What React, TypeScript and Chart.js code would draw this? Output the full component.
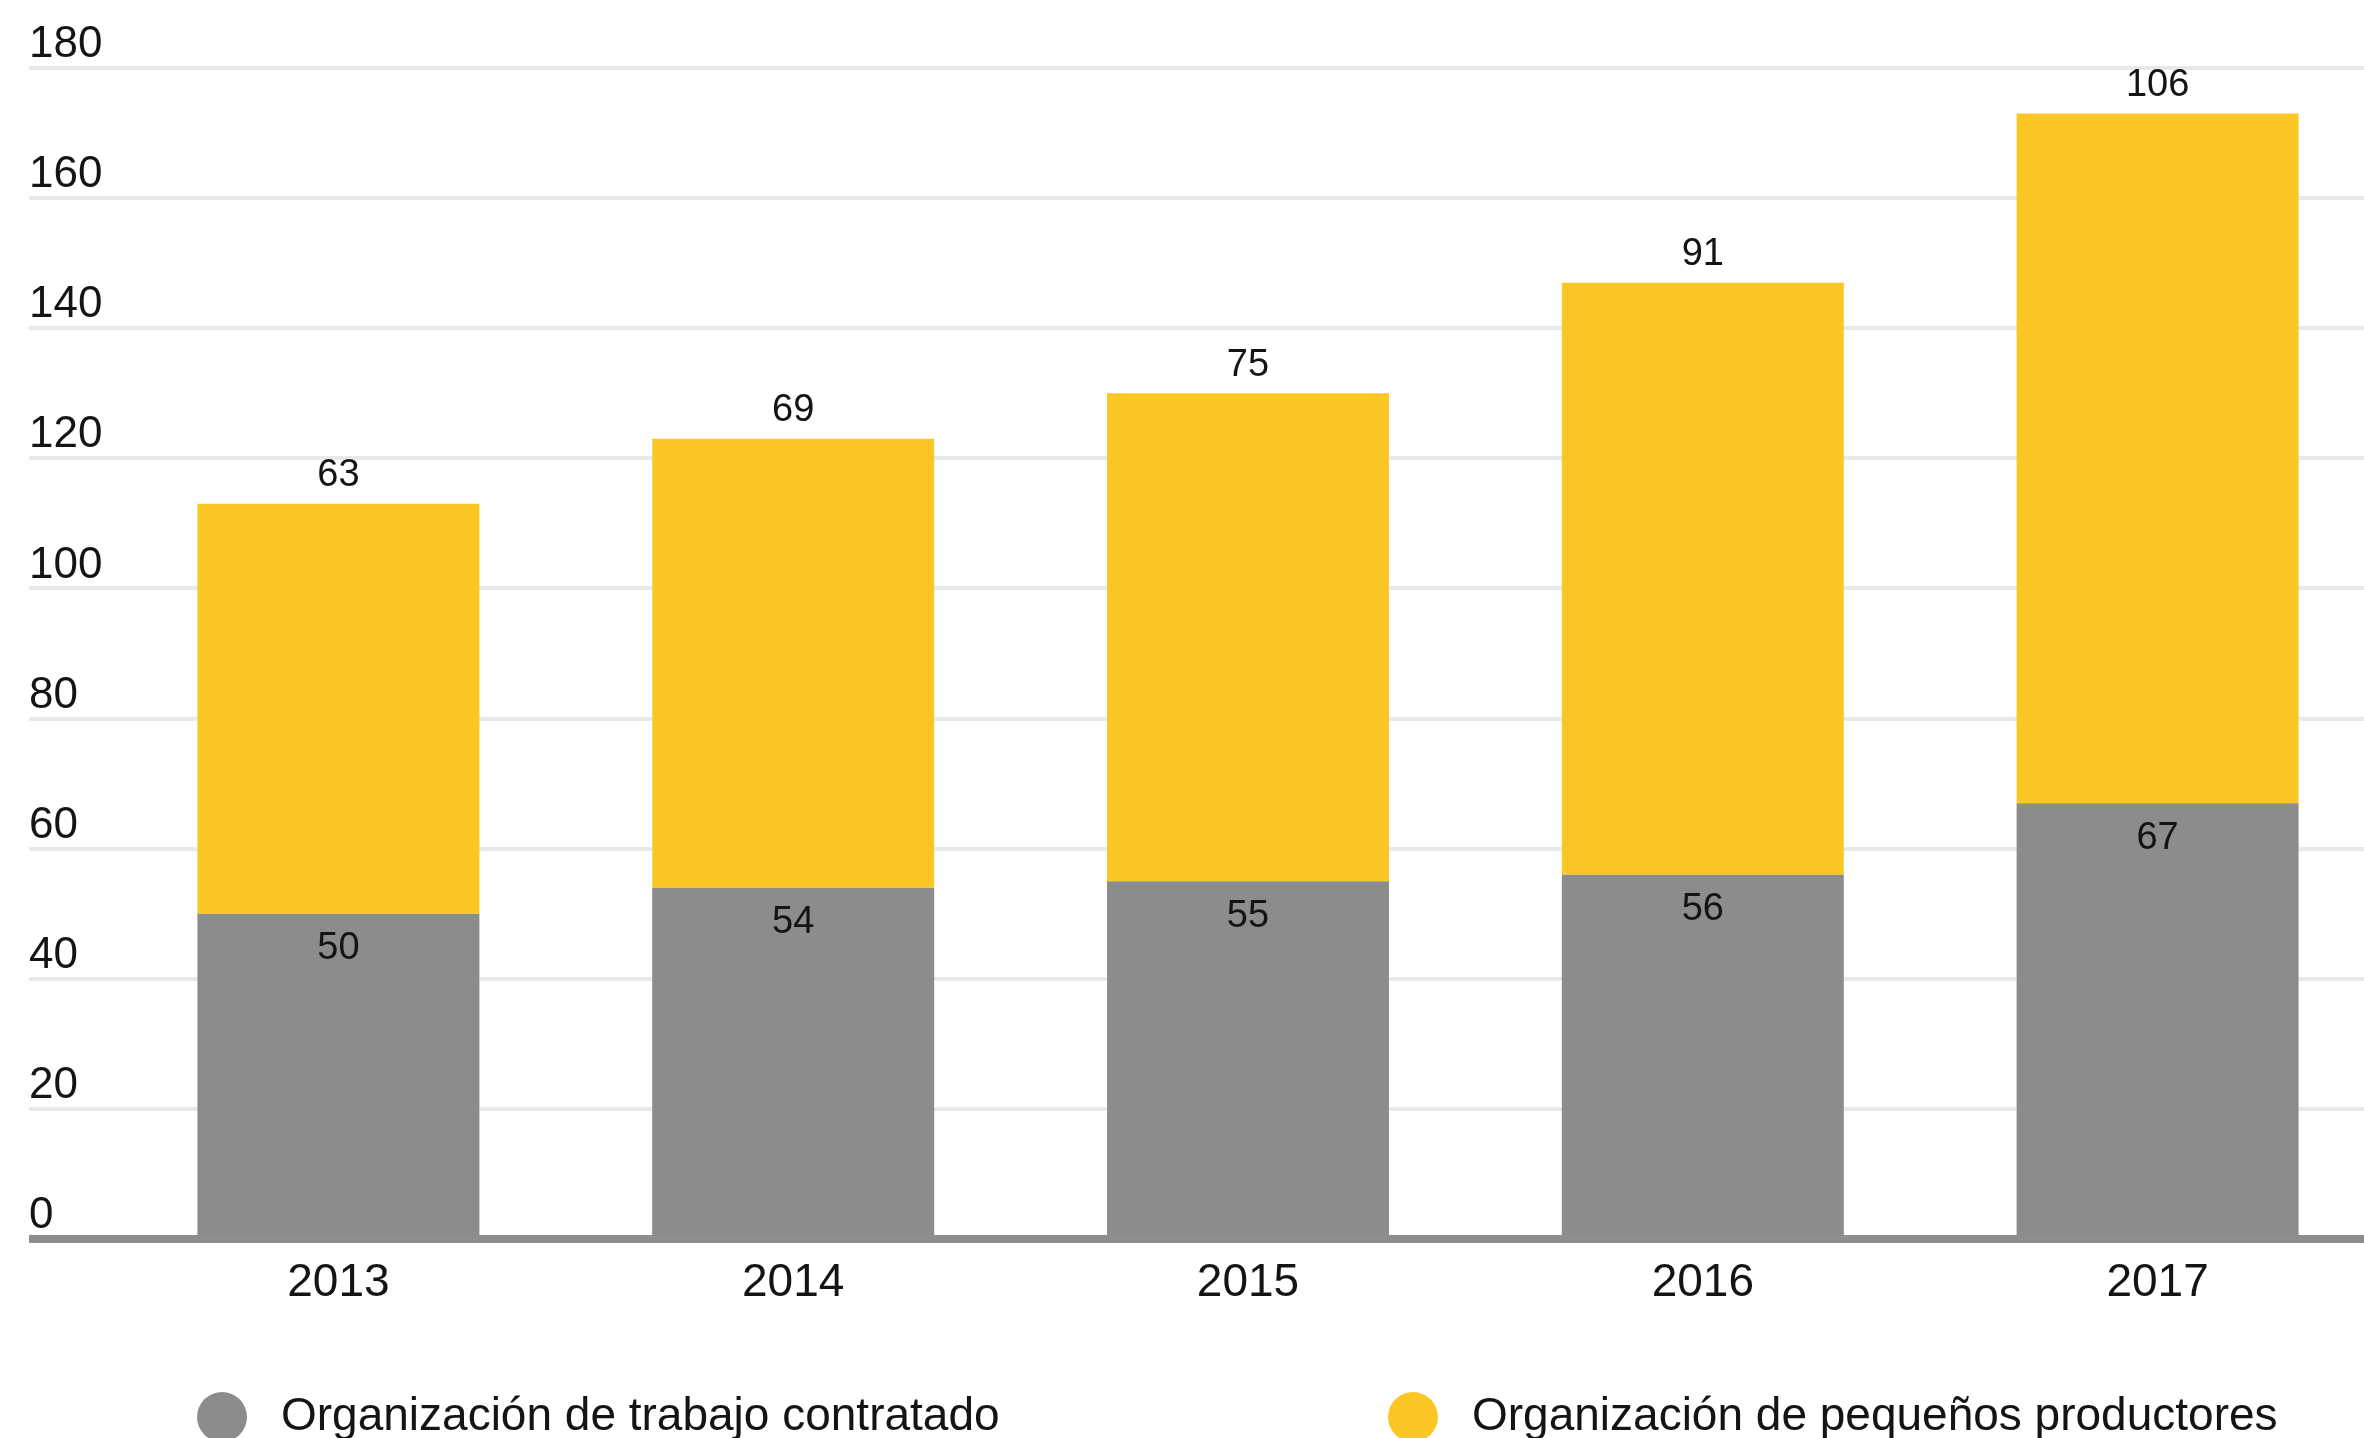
import React, { useEffect, useRef } from "react";
import { Chart, registerables } from "chart.js";

Chart.register(...registerables);

// ---- data ----
const years = ["2013", "2014", "2015", "2016", "2017"];
const trabajoContratado = [50, 54, 55, 56, 67];
const pequenosProductores = [63, 69, 75, 91, 106];
const seriesNames = [
  "Organización de trabajo contratado",
  "Organización de pequeños productores",
];
const yMin = 0;
const yMax = 180;
const yStep = 20;

// ---- style ----
const GRAY = "#8b8c8e";
const YELLOW = "#fcc724";
const GRID = "#e9e9e9";
const AXIS = "#8e8e8e";
const TEXT = "#141414";
const FONT = "'Liberation Sans', Arial, Helvetica, sans-serif";

const CANVAS_W = 2400;
const CANVAS_H = 1438;
const LEGEND_X = [222, 1413];
const LEGEND_CY = 1417;
const LEGEND_R = 25;
const LEGEND_TEXT_DX = 59;
const LEGEND_BASELINE = 1430;

const valueLabels = {
  id: "valueLabels",
  afterDatasetsDraw(chart: any) {
    const ctx = chart.ctx;
    ctx.save();
    ctx.font = `38px ${FONT}`;
    ctx.fillStyle = TEXT;
    ctx.textAlign = "center";
    ctx.textBaseline = "middle";
    chart.data.datasets.forEach((ds: any, di: number) => {
      const meta = chart.getDatasetMeta(di);
      meta.data.forEach((el: any, i: number) => {
        const v = ds.data[i];
        const y = di === 0 ? el.y + 35 : el.y - 28;
        ctx.fillText(String(v), el.x, y);
      });
    });
    ctx.restore();
  },
};

const dotLegend = {
  id: "dotLegend",
  afterDraw(chart: any) {
    const ctx = chart.ctx;
    ctx.save();
    chart.data.datasets.forEach((ds: any, di: number) => {
      const cx = LEGEND_X[di];
      ctx.beginPath();
      ctx.fillStyle = ds.backgroundColor;
      ctx.arc(cx, LEGEND_CY, LEGEND_R, 0, Math.PI * 2);
      ctx.fill();
      ctx.font = `46px ${FONT}`;
      ctx.fillStyle = TEXT;
      ctx.textAlign = "left";
      ctx.textBaseline = "alphabetic";
      ctx.fillText(ds.label, cx + LEGEND_TEXT_DX, LEGEND_BASELINE);
    });
    ctx.restore();
  },
};

export default function App() {
  const ref = useRef<HTMLCanvasElement | null>(null);

  useEffect(() => {
    if (!ref.current) return;
    const chart = new Chart(ref.current, {
      type: "bar",
      data: {
        labels: years,
        datasets: [
          {
            label: seriesNames[0],
            data: trabajoContratado,
            backgroundColor: GRAY,
            borderWidth: 0,
            barPercentage: 0.62,
            categoryPercentage: 1,
          },
          {
            label: seriesNames[1],
            data: pequenosProductores,
            backgroundColor: YELLOW,
            borderWidth: 0,
            barPercentage: 0.62,
            categoryPercentage: 1,
          },
        ],
      },
      options: {
        responsive: false,
        animation: false,
        devicePixelRatio: 1,
        layout: { padding: { left: 29, right: 15, top: 68, bottom: 119 } },
        plugins: {
          legend: { display: false },
          tooltip: { enabled: false },
        },
        scales: {
          x: {
            stacked: true,
            offset: true,
            grid: { display: true, drawOnChartArea: false, drawTicks: false },
            border: { display: false },
            ticks: {
              padding: 17,
              color: TEXT,
              font: { family: FONT, size: 46 },
            },
            afterFit: (s: any) => {
              s.height = 80;
            },
          },
          y: {
            stacked: true,
            min: yMin,
            max: yMax,
            ticks: {
              stepSize: yStep,
              crossAlign: "far",
              labelOffset: -23,
              padding: 0,
              color: TEXT,
              font: { family: FONT, size: 44 },
            },
            grid: {
              color: (c: any) => (c.tick && c.tick.value === 0 ? AXIS : GRID),
              lineWidth: (c: any) => (c.tick && c.tick.value === 0 ? 8 : 4),
              drawTicks: true,
              tickLength: 82,
            },
            border: { display: false },
            afterFit: (s: any) => {
              s.width = 82;
            },
          },
        },
      },
      plugins: [valueLabels, dotLegend],
    });
    return () => chart.destroy();
  }, []);

  return (
    <div
      style={{
        position: "absolute",
        left: 0,
        top: 0,
        width: 2364,
        height: 1438,
        overflow: "hidden",
        background: "#ffffff",
      }}
    >
      <canvas
        ref={ref}
        width={CANVAS_W}
        height={CANVAS_H}
        style={{ display: "block", width: CANVAS_W, height: CANVAS_H }}
      />
    </div>
  );
}
